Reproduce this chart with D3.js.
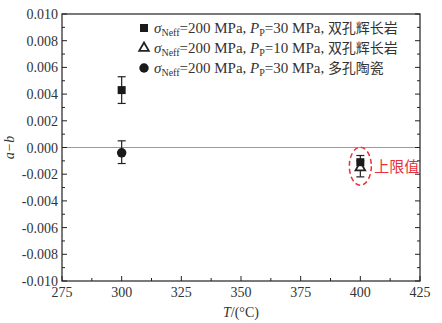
<!DOCTYPE html>
<html>
<head>
<meta charset="utf-8">
<script src="https://cdn.jsdelivr.net/npm/d3@7"></script>
<style>
body { margin: 0; background: #fff; }
text { font-family: "Liberation Serif", "DejaVu Serif", serif; fill: #333; }
.cjk { font-family: "Noto Sans CJK SC", sans-serif; }
</style>
</head>
<body>
<div id="chart"></div>
<script>
var xTicks = [275, 300, 325, 350, 375, 400, 425]
var yTicks = [0.010, 0.008, 0.006, 0.004, 0.002, 0.000, -0.002, -0.004, -0.006, -0.008, -0.010]

// points: T, value, error low, error high
var squarePts = [{t: 300, v: 0.0043, lo: 0.0033, hi: 0.0053}, {t: 400, v: -0.0011, lo: -0.0016, hi: -0.0006}]
var trianglePts = [{t: 400, v: -0.0015, lo: -0.0022, hi: -0.0010}]
var circlePts = [{t: 300, v: -0.0004, lo: -0.0012, hi: 0.0005}]

var legendRows = [
  {shape: "square", p: "30", rock: "双孔辉长岩"},
  {shape: "triangle", p: "10", rock: "双孔辉长岩"},
  {shape: "circle", p: "30", rock: "多孔陶瓷"}
]

var width = 442, height = 323
var margin = {left: 62, right: 22, top: 14, bottom: 42}

var svg = d3.select("#chart").append("svg")
  .attr("width", width)
  .attr("height", height)

var x = d3.scaleLinear().domain([275, 425]).range([margin.left, width - margin.right])
var y = d3.scaleLinear().domain([-0.010, 0.010]).range([height - margin.bottom, margin.top])

// zero line
svg.append("line")
  .attr("x1", x(275)).attr("x2", x(425))
  .attr("y1", y(0)).attr("y2", y(0))
  .attr("stroke", "#9a9a9a").attr("stroke-width", 1.2)

// minor ticks
var xMinor = d3.range(287.5, 425, 25)
var yMinor = d3.range(-0.009, 0.0095, 0.002)

var axisG = svg.append("g").attr("stroke", "#222").attr("stroke-width", 1)
xTicks.forEach(function(t) {
  axisG.append("line").attr("x1", x(t)).attr("x2", x(t)).attr("y1", y(-0.010)).attr("y2", y(-0.010) - 5)
})
xMinor.forEach(function(t) {
  axisG.append("line").attr("x1", x(t)).attr("x2", x(t)).attr("y1", y(-0.010)).attr("y2", y(-0.010) - 3)
})
yTicks.forEach(function(v) {
  axisG.append("line").attr("x1", x(275)).attr("x2", x(275) + 5).attr("y1", y(v)).attr("y2", y(v))
  axisG.append("line").attr("x1", x(425)).attr("x2", x(425) - 5).attr("y1", y(v)).attr("y2", y(v))
})
yMinor.forEach(function(v) {
  axisG.append("line").attr("x1", x(275)).attr("x2", x(275) + 3).attr("y1", y(v)).attr("y2", y(v))
  axisG.append("line").attr("x1", x(425)).attr("x2", x(425) - 3).attr("y1", y(v)).attr("y2", y(v))
})

// frame
svg.append("rect")
  .attr("x", x(275)).attr("y", y(0.010))
  .attr("width", x(425) - x(275)).attr("height", y(-0.010) - y(0.010))
  .attr("fill", "none").attr("stroke", "#222").attr("stroke-width", 1.2)

// tick labels
svg.selectAll(".xl").data(xTicks).enter().append("text")
  .attr("x", function(d) { return x(d) }).attr("y", y(-0.010) + 16)
  .attr("text-anchor", "middle").attr("font-size", 14)
  .text(function(d) { return d })

svg.selectAll(".yl").data(yTicks).enter().append("text")
  .attr("x", x(275) - 4).attr("y", function(d) { return y(d) + 5 })
  .attr("text-anchor", "end").attr("font-size", 14)
  .text(function(d) { return d3.format(".3f")(d).replace("−", "-") })

// axis titles
var xt = svg.append("text").attr("x", (x(275) + x(425)) / 2).attr("y", height - 6)
  .attr("text-anchor", "middle").attr("font-size", 14)
xt.append("tspan").attr("font-style", "italic").text("T")
xt.append("tspan").text("/(°C)")

svg.append("text")
  .attr("transform", "translate(14," + y(0) + ") rotate(-90)")
  .attr("text-anchor", "middle").attr("font-size", 14).attr("font-style", "italic")
  .text("a−b")

// markers
function errBars(pts) {
  pts.forEach(function(d) {
    var g = svg.append("g").attr("stroke", "#222").attr("stroke-width", 1.2)
    g.append("line").attr("x1", x(d.t)).attr("x2", x(d.t)).attr("y1", y(d.lo)).attr("y2", y(d.hi))
    g.append("line").attr("x1", x(d.t) - 4).attr("x2", x(d.t) + 4).attr("y1", y(d.lo)).attr("y2", y(d.lo))
    g.append("line").attr("x1", x(d.t) - 4).attr("x2", x(d.t) + 4).attr("y1", y(d.hi)).attr("y2", y(d.hi))
  })
}
errBars(trianglePts)
errBars(squarePts)
errBars(circlePts)

var sym = {
  square: d3.symbol().type(d3.symbolSquare).size(64),
  triangle: d3.symbol().type(d3.symbolTriangle).size(40),
  circle: d3.symbol().type(d3.symbolCircle).size(70)
}

svg.selectAll(".tri").data(trianglePts).enter().append("path")
  .attr("d", sym.triangle)
  .attr("transform", function(d) { return "translate(" + x(d.t) + "," + y(d.v) + ")" })
  .attr("fill", "#fff").attr("stroke", "#222").attr("stroke-width", 1.8)
svg.selectAll(".sq").data(squarePts).enter().append("path")
  .attr("d", sym.square)
  .attr("transform", function(d) { return "translate(" + x(d.t) + "," + y(d.v) + ")" })
  .attr("fill", "#1a1a1a")
svg.selectAll(".ci").data(circlePts).enter().append("path")
  .attr("d", sym.circle)
  .attr("transform", function(d) { return "translate(" + x(d.t) + "," + y(d.v) + ")" })
  .attr("fill", "#1a1a1a")

// upper limit annotation
svg.append("ellipse")
  .attr("cx", x(400)).attr("cy", y(-0.0014))
  .attr("rx", 11).attr("ry", 19)
  .attr("fill", "none").attr("stroke", "#e8303a").attr("stroke-width", 1.5)
  .attr("stroke-dasharray", "5,3")
svg.append("text").attr("class", "cjk")
  .attr("x", x(400) + 14).attr("y", y(-0.0014) + 6)
  .attr("font-size", 15).style("fill", "#e8303a")
  .text("上限值")

// legend
var leg = svg.selectAll(".leg").data(legendRows).enter().append("g")
  .attr("transform", function(d, i) { return "translate(144," + (28 + i * 20) + ")" })
leg.append("path")
  .attr("d", function(d) { return sym[d.shape]() })
  .attr("fill", function(d) { return d.shape == "triangle" ? "#fff" : "#1a1a1a" })
  .attr("stroke", function(d) { return d.shape == "triangle" ? "#222" : "none" })
  .attr("stroke-width", 1.8)
var lt = leg.append("text").attr("x", 10).attr("y", 5).attr("font-size", 15)
lt.append("tspan").attr("font-style", "italic").text("σ")
lt.append("tspan").attr("font-size", 10).attr("dy", 3).text("Neff")
lt.append("tspan").attr("dy", -3).text("=200 MPa, ")
lt.append("tspan").attr("font-style", "italic").text("P")
lt.append("tspan").attr("font-size", 10).attr("dy", 3).text("P")
lt.append("tspan").attr("dy", -3).text(function(d) { return "=" + d.p + " MPa, " })
lt.append("tspan").attr("class", "cjk").attr("font-size", 14).text(function(d) { return d.rock })
</script>
</body>
</html>
